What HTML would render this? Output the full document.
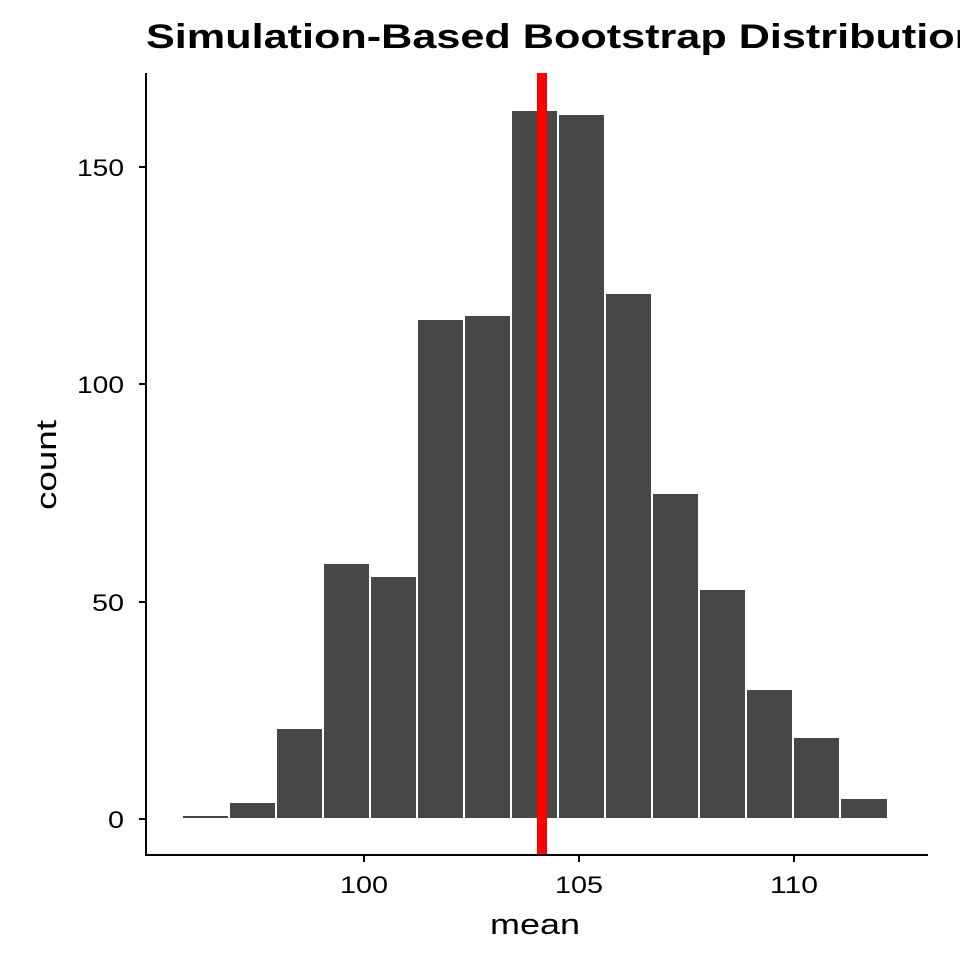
<!DOCTYPE html>
<html><head><meta charset="utf-8"><style>
html,body{margin:0;padding:0;background:#fff;overflow:hidden;}
svg{display:block;}
text{font-family:"Liberation Sans",sans-serif;}
</style></head><body>
<svg width="960" height="960" viewBox="0 0 960 960" xmlns="http://www.w3.org/2000/svg">
<rect width="960" height="960" fill="#fff"/>
<text x="146" y="48" font-size="34" font-weight="bold" fill="#000" textLength="835" lengthAdjust="spacingAndGlyphs">Simulation-Based Bootstrap Distribution</text>
<g fill="#474747" stroke="#fff" stroke-width="2">
<rect x="182" y="815" width="47" height="4"/>
<rect x="229" y="802" width="47" height="17"/>
<rect x="276" y="728" width="47" height="91"/>
<rect x="323" y="563" width="47" height="256"/>
<rect x="370" y="576" width="47" height="243"/>
<rect x="417" y="319" width="47" height="500"/>
<rect x="464" y="315" width="47" height="504"/>
<rect x="511" y="110" width="47" height="709"/>
<rect x="558" y="114" width="47" height="705"/>
<rect x="605" y="293" width="47" height="526"/>
<rect x="652" y="493" width="47" height="326"/>
<rect x="699" y="589" width="47" height="230"/>
<rect x="746" y="689" width="47" height="130"/>
<rect x="793" y="737" width="47" height="82"/>
<rect x="840" y="798" width="48" height="21"/>
</g>
<rect x="537" y="73" width="10" height="782" fill="#ff0000"/>
<line x1="146" y1="73" x2="146" y2="856" stroke="#000" stroke-width="2"/>
<line x1="145" y1="855" x2="928" y2="855" stroke="#000" stroke-width="2"/>
<g stroke="#000" stroke-width="2">
<line x1="139" y1="819" x2="146" y2="819"/>
<line x1="139" y1="602" x2="146" y2="602"/>
<line x1="139" y1="384" x2="146" y2="384"/>
<line x1="139" y1="167" x2="146" y2="167"/>
<line x1="364" y1="855" x2="364" y2="862"/>
<line x1="579" y1="855" x2="579" y2="862"/>
<line x1="794" y1="855" x2="794" y2="862"/>
</g>
<g font-size="24" fill="#000">
<text x="108" y="828" textLength="16" lengthAdjust="spacingAndGlyphs">0</text>
<text x="92" y="611" textLength="32" lengthAdjust="spacingAndGlyphs">50</text>
<text x="77" y="393" textLength="47" lengthAdjust="spacingAndGlyphs">100</text>
<text x="77" y="176" textLength="47" lengthAdjust="spacingAndGlyphs">150</text>
<text x="340" y="893" textLength="48" lengthAdjust="spacingAndGlyphs">100</text>
<text x="555" y="893" textLength="48" lengthAdjust="spacingAndGlyphs">105</text>
<text x="770" y="893" textLength="48" lengthAdjust="spacingAndGlyphs">110</text>
<text x="490" y="934" font-size="29" textLength="90" lengthAdjust="spacingAndGlyphs">mean</text>
</g>
<text transform="translate(56,465) rotate(-90)" font-size="29" text-anchor="middle" fill="#000" textLength="90" lengthAdjust="spacingAndGlyphs">count</text>
</svg>
</body></html>
